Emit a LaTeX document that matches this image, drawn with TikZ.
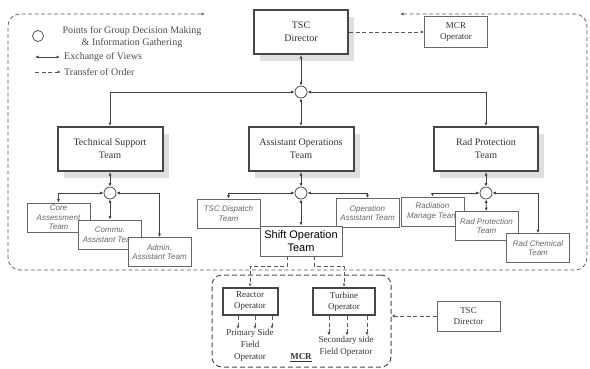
\documentclass[tikz,border=0pt]{standalone}
\usepackage{fontspec}
\setmainfont{Liberation Serif}
\setsansfont{Liberation Sans}
\usetikzlibrary{
  arrows.meta,
  positioning,
  shadows
}

\tikzset{
  ev/.style={draw=black!75, line width=0.7pt, {Latex[length=3.5pt,width=3pt]}-{Latex[length=3.5pt,width=3pt]}},
  ord/.style={draw=black!65, line width=0.7pt, dash pattern=on 4pt off 2.5pt, -{Latex[length=3.5pt,width=3pt]}},
  hub/.style={circle, draw=black!75, line width=0.7pt, fill=white, minimum size=12pt, inner sep=0pt},
  teambox/.style={rectangle, draw=gray!55!black, line width=2pt,
    fill=white, align=center, font=\fontsize{10}{13}\selectfont, text=black!80,
    drop shadow={shadow xshift=6pt, shadow yshift=-7pt, fill=gray!25, opacity=1}},
  opbox/.style={rectangle, draw=gray!55!black, line width=2pt,
    fill=white, align=center, font=\fontsize{9}{11}\selectfont, text=black!80},
  subbox/.style={rectangle, draw=black!60, line width=0.7pt, fill=white, align=center,
    minimum width=63pt, minimum height=29pt, inner sep=1pt,
    font=\sffamily\itshape\fontsize{8}{9.5}\selectfont, text=black!60},
  plainbox/.style={rectangle, draw=black!60, line width=0.7pt, fill=white, align=center,
    font=\fontsize{9}{11}\selectfont, text=black!80},
  shiftbox/.style={rectangle, draw=black!60, line width=0.7pt, fill=white, align=center,
    minimum width=82pt, minimum height=30pt, inner sep=1pt, font=\sffamily\fontsize{11}{13}\selectfont},
  mcrbox/.style={rectangle, draw=black!70, line width=1pt, dash pattern=on 5pt off 3pt, rounded corners=10pt},
  fieldtext/.style={align=center, font=\fontsize{9}{12}\selectfont, text=black!80, inner sep=0pt},
  legtext/.style={font=\fontsize{10}{12.5}\selectfont, text=black!70, inner sep=0pt}
}

\begin{document}
\begin{tikzpicture}[x=1pt, y=-1pt]
  \useasboundingbox (0,0) rectangle (590,368);

  % outer frame
  \draw[ord, {Latex[length=3.5pt,width=3pt]}-{Latex[length=3.5pt,width=3pt]}, rounded corners=12pt]
    (400,14) -- (587,14) -- (587,270) -- (8,270) -- (8,14) -- (205,14);

  % legend
  \node[hub, minimum size=11pt] (legcirc) at (38,36) {};
  \node[legtext, align=center] (legpts) at (132,37) {Points for Group Decision Making\\\& Information Gathering};
  \coordinate (evA) at (35,57);
  \coordinate (evB) at (60,57);
  \draw[ev] (evA) -- (evB);
  \node[legtext, anchor=west] (legev) at (64,57) {Exchange of Views};
  \coordinate (orA) at (35,72);
  \coordinate (orB) at (61,72);
  \draw[ord] (orA) -- (orB);
  \node[legtext, anchor=west] (legor) at (64,72) {Transfer of Order};

  % top level
  \node[teambox, minimum width=94pt, minimum height=44pt] (tscd) at (301,32) {TSC\\Director};
  \node[plainbox, minimum width=63pt, minimum height=31pt] (mcrop) at (456,32) {MCR\\Operator};
  \draw[ord] (tscd) -- (mcrop);
  \node[hub] (hubtop) at (301,92) {};

  % teams
  \node[teambox, minimum width=105pt, minimum height=44pt] (tst) at (110,149) {Technical Support\\Team};
  \node[teambox, minimum width=105pt, minimum height=44pt] (aot) at (301,149) {Assistant Operations\\Team};
  \node[teambox, minimum width=104pt, minimum height=44pt] (rpt) at (486,149) {Rad Protection\\Team};
  \draw[ev] (tscd) -- (hubtop);
  \draw[ev] (hubtop) -| (tst);
  \draw[ev] (hubtop) -- (aot);
  \draw[ev] (hubtop) -| (rpt);

  \node[hub] (hubtst) at (110,193) {};
  \node[hub] (hubaot) at (301,193) {};
  \node[hub] (hubrpt) at (486,193) {};
  \draw[ev] (tst) -- (hubtst);
  \draw[ev] (aot) -- (hubaot);
  \draw[ev] (rpt) -- (hubrpt);

  % technical support sub teams
  \node[subbox] (core) at (58.5,217.5) {Core\\Assessment\\Team};
  \node[subbox] (commu) at (110,234.5) {Commu.\\Assistant Team};
  \node[subbox] (admin) at (159.5,252) {Admin.\\Assistant Team};
  \draw[ev] (hubtst) -| (core);
  \draw[ev] (hubtst) -- (commu);
  \draw[ev] (hubtst) -| (admin);

  % assistant operations sub teams
  \node[subbox] (tscdisp) at (228.5,213.5) {TSC Dispatch\\Team};
  \node[subbox] (opassist) at (367.5,213) {Operation\\Assistant Team};
  \node[shiftbox] (shift) at (301,241) {Shift Operation\\Team};
  \draw[ev] (hubaot) -| (tscdisp);
  \draw[ev] (hubaot) -- (shift);
  \draw[ev] (hubaot) -| (opassist);

  % rad protection sub teams
  \node[subbox] (radman) at (432.5,211.5) {Radiation\\Manage Team};
  \node[subbox] (radprot) at (486.5,226) {Rad Protection\\Team};
  \node[subbox] (radchem) at (538,248) {Rad Chemical\\Team};
  \draw[ev] (hubrpt) -| (radman);
  \draw[ev] (hubrpt) -- (radprot);
  \draw[ev] (hubrpt) -| (radchem);

  % MCR
  \node[mcrbox, minimum width=179pt, minimum height=92pt] (mcr) at (301.5,321) {};
  \node[opbox, minimum width=55pt, minimum height=27pt] (reactor) at (250,301.5) {Reactor\\Operator};
  \node[opbox, minimum width=62pt, minimum height=27pt] (turbine) at (344,301.5) {Turbine\\Operator};
  \node[fieldtext] (primary) at (250,345.5) {Primary Side\\Field\\Operator};
  \node[fieldtext] (secondary) at (346,346) {Secondary side\\Field Operator};
  \node[font=\fontsize{9}{11}\selectfont\bfseries, text=black!80, inner sep=0pt] (mcrlabel) at (301,358) {\underline{MCR}};
  \draw[ord] ([xshift=-14pt]shift.south) -- ++(0,10) -| (reactor);
  \draw[ord] ([xshift=13pt]shift.south) -- ++(0,10) -| (turbine);
  \foreach \dx in {-12,5,22}
    \draw[ord] ([xshift=\dx pt]reactor.south) -- ([xshift=\dx pt]reactor.south |- primary.north);
  \foreach \dx in {-15,3,23}
    \draw[ord] ([xshift=\dx pt]turbine.south) -- ([xshift=\dx pt]turbine.south |- secondary.north);

  \node[plainbox, minimum width=63pt, minimum height=30pt] (tscdb) at (468.5,316) {TSC\\Director};
  \draw[ord] (tscdb) -- (tscdb -| mcr.east);
\end{tikzpicture}
\end{document}
